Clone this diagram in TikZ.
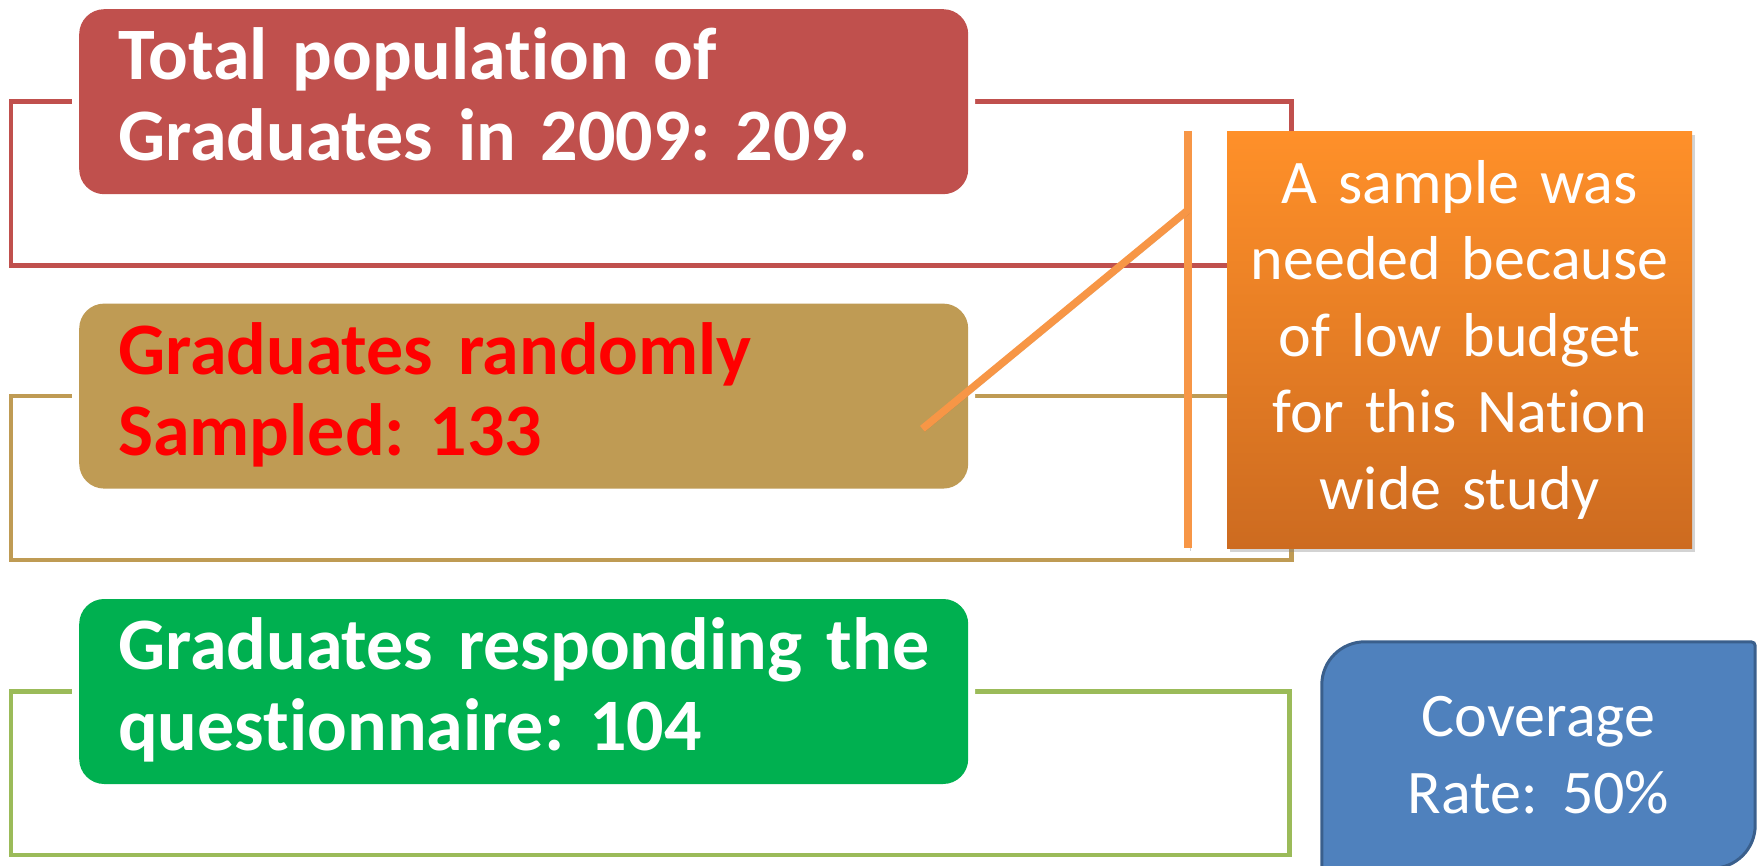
\documentclass[tikz,border=0pt]{standalone}
\usepackage{fontspec}
\setmainfont{Carlito}[Ligatures=NoCommon, WordSpace=0.85]
\usepackage{tikz}
\usetikzlibrary{positioning,shadows,backgrounds}

\definecolor{PopRed}{HTML}{C0504D}
\definecolor{SampleGold}{HTML}{BF9B54}
\definecolor{AnswerGreen}{HTML}{00B050}
\definecolor{AnswerLine}{HTML}{9BBB59}
\definecolor{NoteLine}{HTML}{F79646}
\definecolor{NoteTop}{HTML}{FF9029}
\definecolor{NoteBottom}{HTML}{CD6B20}
\definecolor{RateBlue}{HTML}{4F81BD}
\definecolor{RateBorder}{HTML}{3A5F8C}

\begin{document}
\frenchspacing
\begin{tikzpicture}
  [x=1pt, y=-1pt,
   stage/.style={anchor=north west, rounded corners=25pt,
     preaction={draw=white, line width=14pt},
     text width=811pt, inner xsep=39pt, inner ysep=4pt, minimum height=185pt,
     text depth=96pt, align=left, text=white,
     font=\fontsize{74}{81}\selectfont\bfseries},
   frame/.style={line width=4.5pt},
   note/.style={anchor=north west, inner sep=0pt, text width=465pt,
     minimum height=417pt, top color=NoteTop, bottom color=NoteBottom,
     drop shadow={shadow xshift=3pt, shadow yshift=-4pt, opacity=.35},
     align=center, text=white, font=\fontsize{62}{76.5}\selectfont},
   callout/.style={draw=NoteLine, line width=7.5pt,
     preaction={draw=black!70, opacity=.25,
       transform canvas={shift={(2pt,-3pt)}}}},
   rate/.style={inner sep=0pt, minimum width=433pt, minimum height=226pt,
     align=center, text=white, font=\fontsize{62}{77}\selectfont},
   rate box/.style={fill=RateBlue, draw=RateBorder, line width=3pt}]

  \useasboundingbox (0,0) rectangle (1762,866);

  \node [stage, fill=PopRed] (population) at (79,9)
    {Total population of\\Graduates in 2009: 209.};
  \node [stage, fill=SampleGold, text=red, below=109pt of population] (sampled)
    {Graduates randomly\\Sampled: 133};
  \node [stage, fill=AnswerGreen, below=110pt of sampled] (answered)
    {\mbox{Graduates responding the}\\questionnaire: 104};

  \begin{scope}[on background layer]
    \draw [frame, PopRed] ([xshift=-68pt]population.west)
      rectangle ([shift={(323,71)}]population.south east);
    \draw [frame, SampleGold] ([xshift=-68pt]sampled.west)
      rectangle ([shift={(323,71)}]sampled.south east);
    \draw [frame, AnswerLine] ([xshift=-68pt]answered.west)
      rectangle ([shift={(321,71)}]answered.south east);
  \end{scope}

  \node [note] (reason) at (1227,131)
    {A sample was\\needed because\\of low budget\\for this Nation\\wide study};

  \coordinate (bar top) at ([xshift=-39pt]reason.north west);
  \coordinate (bar bottom) at ([xshift=-39pt]reason.south west);
  \coordinate (bend) at ([shift={(-39,79)}]reason.north west);
  \coordinate (tip) at ([shift={(-46,-60)}]sampled.south east);
  \draw [callout] (bar top) -- (bar bottom);
  \draw [callout] (bend) -- (tip);

  \node [rate] (coverage) at (1538.5,755) {Coverage\\Rate: \ 50\%};
  \begin{scope}[on background layer]
    \draw [rate box] (coverage.south west)
      -- ([shift={(0,43)}]coverage.north west) arc (180:270:43)
      -- ([shift={(-4,0)}]coverage.north east) arc (270:360:4)
      -- ([shift={(0,-43)}]coverage.south east) arc (0:90:43) -- cycle;
  \end{scope}
\end{tikzpicture}
\end{document}
